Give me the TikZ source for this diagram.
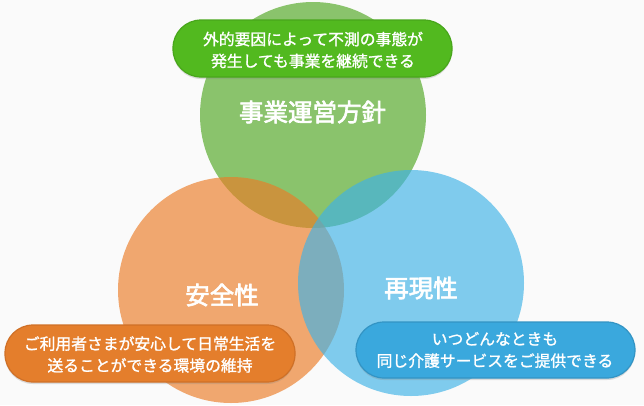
\documentclass[tikz,border=0pt]{standalone}
\usepackage{fontspec}
\newfontfamily\jp{Noto Sans CJK JP}[FakeBold=1.2]
\newfontfamily\jpbig{Noto Sans CJK JP}[FakeBold=2.6]
\usetikzlibrary{shadows}
\definecolor{bgc}{HTML}{FAFAFA}
\definecolor{cg}{HTML}{4EA720}
\definecolor{co}{HTML}{EB7C26}
\definecolor{cb}{HTML}{3EB2E7}
\definecolor{pg}{HTML}{52B91F}
\definecolor{pgd}{HTML}{48A61B}
\definecolor{po}{HTML}{E47E2C}
\definecolor{pod}{HTML}{CF7027}
\definecolor{pb}{HTML}{3AA8DD}
\definecolor{pbd}{HTML}{3394C4}
\begin{document}
\begin{tikzpicture}[x=1pt,y=-1pt,
  circ/.style={circle,minimum size=226pt,inner sep=0pt,fill opacity=0.65},
  pill/.style={rounded corners=28pt,line width=1.2pt,
    drop shadow={shadow xshift=0pt,shadow yshift=-2pt,opacity=0.25}},
  ptext/.style={text=white,font=\jp\fontsize{15.8}{21.8}\selectfont,align=center},
  big/.style={text=white,font=\jpbig\fontsize{24.5}{28}\selectfont}]
\fill[bgc] (0,0) rectangle (644,405);
\useasboundingbox (0,0) rectangle (644,405);
\node[circ,fill=cg] (cG) at (313,115) {};
\node[circ,fill=co] (cO) at (231,290) {};
\node[circ,fill=cb] (cB) at (411,283) {};
\node[big] (lG) at (312.5,112) {事業運営方針};
\node[big] (lO) at (222,295) {安全性};
\node[big] (lB) at (421,288) {再現性};
\path[pill,fill=pg,draw=pgd] (173,20) rectangle (452,77);
\path[pill,fill=po,draw=pod] (5,325) rectangle (295,382);
\path[pill,fill=pb,draw=pbd] (356,322) rectangle (635,378);
\node[ptext] (tG) at (313,50) {外的要因によって不測の事態が\\発生しても事業を継続できる};
\node[ptext] (tO) at (150,354.5) {ご利用者さまが安心して日常生活を\\送ることができる環境の維持};
\node[ptext] (tB) at (495,350) {いつどんなときも\\同じ介護サービスをご提供できる};
\end{tikzpicture}
\end{document}
